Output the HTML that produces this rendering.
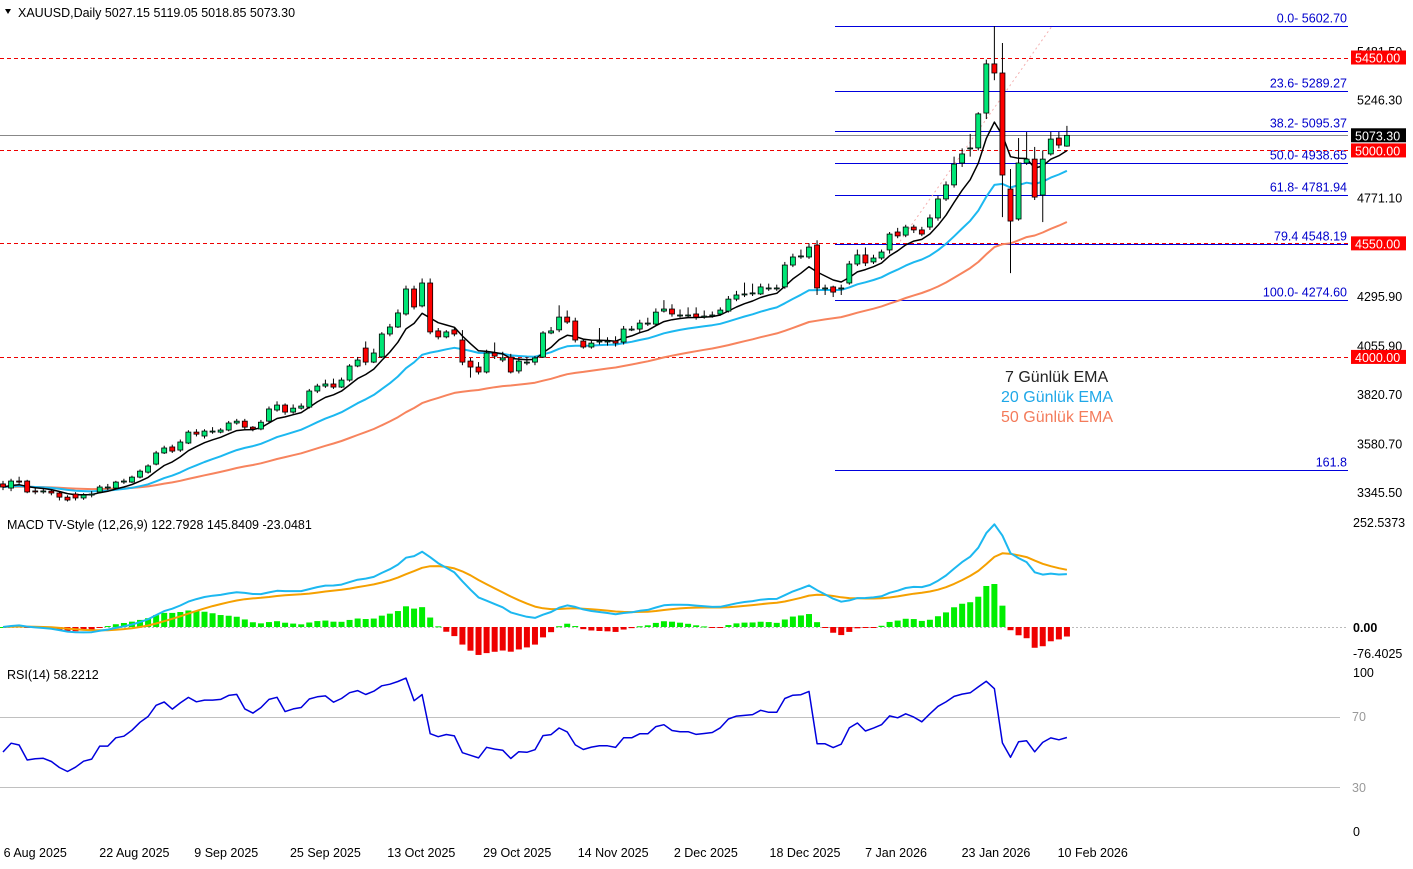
<!DOCTYPE html>
<html><head><meta charset="utf-8">
<style>
html,body{margin:0;padding:0;background:#fff;}
body{width:1413px;height:864px;overflow:hidden;font-family:"Liberation Sans",sans-serif;}
svg text{font-family:"Liberation Sans",sans-serif;}
</style></head>
<body>
<svg id="chart" width="1413" height="864" xmlns="http://www.w3.org/2000/svg">
<g id="grid"></g>
<g id="fib"></g>
<g id="levels"></g>
<g id="lines"></g>
<g id="candles"></g>
<g id="macd"></g>
<g id="rsi"></g>
<g id="axis"></g>
<text x="18" y="17" font-size="12.5" fill="#000">XAUUSD,Daily  5027.15 5119.05 5018.85 5073.30</text>
<path d="M5 9 L11 9 L8 14 Z" fill="#000"/>
<text x="1005" y="382" font-size="16" fill="#222">7 Günlük EMA</text>
<text x="1001" y="402" font-size="16" fill="#1fa8e8">20 Günlük EMA</text>
<text x="1001" y="422" font-size="16" fill="#f47b5a">50 Günlük EMA</text>
<text x="7" y="529" font-size="12.5" fill="#000">MACD TV-Style (12,26,9) 122.7928 145.8409 -23.0481</text>
<text x="7" y="679" font-size="12.5" fill="#000">RSI(14) 58.2212</text>
</svg>
<script>
const opens=[3385,3365,3399,3399,3351,3350,3350,3341,3321,3336,3317,3331,3346,3370,3365,3394,3394,3418,3442,3481,3535,3564,3549,3583,3636,3617,3641,3636,3646,3680,3689,3660,3651,3689,3743,3767,3733,3752,3757,3835,3859,3869,3854,3888,3956,4043,3975,4000,4111,4145,4208,4329,4247,4358,4126,4097,4131,4082,3980,3951,3927,4019,3985,3999,3932,3975,3975,3999,4116,4131,4193,4174,4077,4048,4077,4077,4077,4072,4135,4135,4164,4159,4222,4232,4203,4203,4208,4198,4203,4208,4222,4280,4305,4310,4305,4334,4334,4339,4445,4489,4484,4542,4334,4339,4334,4358,4450,4494,4460,4479,4518,4605,4590,4629,4615,4629,4673,4765,4833,4939,5012,5012,5181,5419,5375,4813,4668,4939,4958,4784,4983,5060,5021];
const closes=[3370,3399,3394,3346,3350,3351,3341,3321,3307,3317,3331,3336,3370,3370,3394,3399,3418,3447,3472,3535,3559,3544,3588,3636,3626,3641,3641,3646,3680,3689,3660,3651,3684,3748,3767,3733,3752,3762,3835,3859,3869,3854,3888,3956,3985,3975,4019,4111,4145,4213,4329,4242,4358,4121,4097,4121,4111,3975,3951,3927,4019,4004,3995,3927,3980,3975,3995,4116,4126,4193,4169,4082,4048,4067,4077,4077,4067,4135,4135,4164,4164,4217,4232,4208,4203,4203,4193,4198,4203,4227,4280,4300,4305,4310,4339,4334,4334,4445,4484,4489,4532,4334,4334,4314,4334,4450,4494,4455,4479,4508,4595,4586,4629,4615,4595,4673,4765,4833,4934,4983,5012,5177,5419,5375,4881,4658,4939,4958,4774,4958,5055,5026,5073];
const highs=[3400,3410,3420,3405,3365,3362,3356,3350,3330,3345,3340,3350,3380,3385,3400,3410,3425,3455,3480,3545,3570,3575,3600,3645,3650,3650,3660,3655,3690,3700,3700,3665,3695,3760,3785,3775,3770,3775,3845,3870,3890,3895,3900,3965,4000,4075,4040,4120,4160,4230,4345,4345,4380,4380,4140,4130,4145,4130,3995,3975,4035,4070,4025,4015,3995,4000,4005,4125,4145,4250,4225,4190,4085,4080,4140,4095,4100,4150,4150,4180,4190,4235,4275,4255,4230,4240,4240,4225,4220,4240,4295,4320,4360,4355,4355,4355,4350,4460,4500,4520,4550,4565,4350,4345,4350,4465,4520,4530,4495,4520,4605,4625,4640,4640,4630,4690,4780,4850,4970,5010,5080,5185,5440,5602,5520,4910,5060,5089,5017,5000,5090,5090,5119];
const lows=[3355,3350,3385,3340,3335,3338,3330,3305,3300,3305,3308,3320,3340,3355,3360,3385,3390,3412,3435,3475,3530,3535,3540,3578,3615,3605,3628,3630,3640,3672,3650,3640,3645,3680,3735,3720,3725,3745,3750,3825,3850,3845,3850,3880,3950,3960,3970,3995,4100,4140,4200,4230,4240,4110,4085,4090,4100,3960,3900,3915,3920,3990,3975,3920,3920,3960,3960,3995,4110,4120,4160,4070,4040,4040,4060,4055,4050,4060,4125,4120,4150,4150,4215,4195,4190,4190,4180,4185,4190,4200,4215,4270,4290,4295,4300,4320,4320,4330,4435,4475,4475,4300,4300,4290,4300,4350,4440,4440,4450,4470,4500,4575,4580,4600,4585,4615,4660,4755,4820,4920,4970,5000,5152,5340,4677,4406,4660,4930,4760,4653,4975,5010,5018];
const fibLevels=[5602.70,5289.27,5095.37,4938.65,4781.94,4548.19,4274.60,3453.8];
const fibLabels=["0.0- 5602.70","23.6- 5289.27","38.2- 5095.37","50.0- 4938.65","61.8- 4781.94","79.4 4548.19","100.0- 4274.60","161.8"];
const levelValues=[5450,5000,4550,4000];
const priceTicks=[5481.50,5246.30,4771.10,4295.90,4055.90,3820.70,3580.70,3345.50];
const dateLabels=["6 Aug 2025","22 Aug 2025","9 Sep 2025","25 Sep 2025","13 Oct 2025","29 Oct 2025","14 Nov 2025","2 Dec 2025","18 Dec 2025","7 Jan 2026","23 Jan 2026","10 Feb 2026"];
const dateIndex=[4,16.3,27.7,40,51.9,63.8,75.7,87.2,99.5,110.8,123.2,135.2];
const lastPrice=5073.30;

const NS="http://www.w3.org/2000/svg";
function mk(tag,attrs,parent){const e=document.createElementNS(NS,tag);for(const k in attrs)e.setAttribute(k,attrs[k]);document.getElementById(parent).appendChild(e);return e;}
const X=i=>3+i*8.06;
const Y=p=>51+(5481.5-p)*0.2065;
const S=y=>Math.round(y)+0.5;
const Ym=v=>627-v*0.4158;
const Yr=v=>717+(70-v)*1.75;
const PR=1348;

function ema(arr,n){const a=2/(n+1);const out=[];let v=arr[0];for(let i=0;i<arr.length;i++){v=i===0?arr[0]:a*arr[i]+(1-a)*v;out.push(v);}return out;}
function poly(vals,yf,stroke,w,name,parent){const pts=vals.map((v,i)=>X(i).toFixed(1)+","+yf(v).toFixed(1)).join(" ");const e=mk("polyline",{points:pts,fill:"none",stroke:stroke,"stroke-width":w,"stroke-linejoin":"round"},parent);


return e;}

fibLevels.forEach((v,i)=>{const y=S(Y(v));
const l=mk("line",{x1:835,x2:PR,y1:y,y2:y,stroke:"#0000dd","stroke-width":1},"fib");


const t=mk("text",{x:1347,y:y-4,"text-anchor":"end","font-size":12.5,fill:"#0000cc"},"fib");t.textContent=fibLabels[i];


});
const dg=mk("line",{x1:900,y1:Y(4560),x2:1052,y2:Y(5602),stroke:"#f4b0b0","stroke-width":1,"stroke-dasharray":"2,3"},"fib");



levelValues.forEach(v=>{const y=S(Y(v));
const l=mk("line",{x1:0,x2:1350,y1:y,y2:y,stroke:"#ee0000","stroke-width":1,"stroke-dasharray":"4,3"},"levels");


});
const cpY=S(Y(lastPrice));
const cp=mk("line",{x1:0,x2:PR,y1:cpY,y2:cpY,stroke:"#888","stroke-width":1},"levels");



for(let i=0;i<closes.length;i++){const o=opens[i],c=closes[i],x=X(i);
const up=c>=o;
const w=mk("line",{x1:x,x2:x,y1:Y(highs[i]),y2:Y(lows[i]),stroke:"#000","stroke-width":1},"candles");


const top=Y(Math.max(o,c)),bot=Y(Math.min(o,c));
const b=mk("rect",{x:x-2.5,y:top,width:5,height:Math.max(1,bot-top),fill:up?"#00e676":"#ff0000",stroke:"#000","stroke-width":0.8},"candles");


}
poly(ema(closes,50),Y,"#f7845e",2,"ema50-line","lines");
poly(ema(closes,20),Y,"#1cb8f0",2,"ema20-line","lines");
poly(ema(closes,7),Y,"#000",1.5,"ema7-line","lines");

const e12=ema(closes,12),e26=ema(closes,26);
const macd=e12.map((v,i)=>v-e26[i]);
const sig=ema(macd,9);
const zl=mk("line",{x1:0,x2:PR,y1:627.5,y2:627.5,stroke:"#bbb","stroke-width":1,"stroke-dasharray":"2,2"},"macd");


macd.forEach((m,i)=>{const h=(m-sig[i])*1.5;const y0=Ym(0),y1=Ym(h);
const r=mk("rect",{x:X(i)-3,y:Math.min(y0,y1),width:6,height:Math.max(1,Math.abs(y1-y0)),fill:h>=0?"#00ee00":"#ee0000"},"macd");


});
poly(sig,Ym,"#f5a000",2,"macd-signal-line","macd");
poly(macd,v=>Ym(v*1.04),"#1cb8f0",2,"macd-line","macd");

const rsi=[];let ag=10,al=10;rsi.push(50);
for(let i=1;i<closes.length;i++){const d=closes[i]-closes[i-1];ag=(ag*13+Math.max(d,0))/14;al=(al*13+Math.max(-d,0))/14;rsi.push(al===0?100:100-100/(1+ag/al));}
[70,30].forEach(v=>{const y=S(Yr(v));const l=mk("line",{x1:0,x2:1340,y1:y,y2:y,stroke:"#c0c0c0","stroke-width":1},"rsi");


});
poly(rsi,Yr,"#0000dd",1.5,"rsi-line","rsi");

priceTicks.forEach(v=>{const t=mk("text",{x:1357,y:Y(v)+5,"font-size":12.5,fill:"#000"},"axis");t.textContent=v.toFixed(2);

});
levelValues.forEach(v=>{const y=Y(v);
const r=mk("rect",{x:1351,y:y-7,width:55,height:14,fill:"#ff0000"},"axis");


const t=mk("text",{x:1355,y:y+5,"font-size":12.5,fill:"#fff"},"axis");t.textContent=v.toFixed(2);

});
{const y=Y(lastPrice);
const r=mk("rect",{x:1351,y:y-7,width:55,height:14,fill:"#000"},"axis");


const t=mk("text",{x:1355,y:y+5,"font-size":12.5,fill:"#fff"},"axis");t.textContent=lastPrice.toFixed(2);

}
[["252.5373",527],["0.00",632],["-76.4025",658],["100",677],["70",721],["30",792],["0",836]].forEach(a=>{
const t=mk("text",{x:a[0]==="70"||a[0]==="30"?1352:1353,y:a[1],"font-size":12.5,fill:a[0]==="70"||a[0]==="30"?"#999":"#000","font-weight":a[0]==="0.00"?"bold":"normal"},"axis");t.textContent=a[0];

});
dateLabels.forEach((d,i)=>{const t=mk("text",{x:X(dateIndex[i]),y:857,"text-anchor":"middle","font-size":12.5,fill:"#000"},"axis");t.textContent=d;

});
</script>
</body></html>
